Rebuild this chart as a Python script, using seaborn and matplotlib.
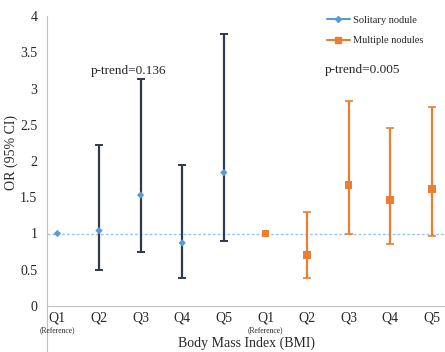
import numpy as np
import pandas as pd
import matplotlib
matplotlib.use("Agg")
import matplotlib.pyplot as plt
from matplotlib.lines import Line2D
import seaborn as sns

sns.set_style("white")
plt.rcParams["font.family"] = ["Liberation Serif", "DejaVu Serif"]

# Odds ratios and 95% CIs by BMI quintile
quintiles = ["Q1", "Q2", "Q3", "Q4", "Q5"]
solitary_or = [1.00, 1.04, 1.53, 0.87, 1.84]
solitary_lo = [1.00, 0.49, 0.74, 0.38, 0.90]
solitary_hi = [1.00, 2.22, 3.13, 1.95, 3.75]
multiple_or = [1.00, 0.70, 1.67, 1.46, 1.61]
multiple_lo = [1.00, 0.39, 1.00, 0.86, 0.96]
multiple_hi = [1.00, 1.29, 2.83, 2.46, 2.75]
p_trend = ["p-trend=0.136", "p-trend=0.005"]
yticks = [0, 0.5, 1, 1.5, 2, 2.5, 3, 3.5, 4]

blue = "#5b9bd5"
navy = "#2e3b4e"
orange = "#ed7d31"

pos_s = np.arange(0, 10, 2)
pos_m = np.arange(10, 20, 2)
df = pd.DataFrame({
    "pos": np.concatenate([pos_s, pos_m]),
    "OR": solitary_or + multiple_or,
    "group": ["Solitary nodule"] * 5 + ["Multiple nodules"] * 5,
})

fig = plt.figure(figsize=(4.45, 3.52), dpi=100)
ax = fig.add_axes([47 / 445, 46 / 352, 398 / 445, 290 / 352])

# reference line at OR = 1
ax.axhline(1, color="#9dc3e6", lw=1.0, ls=(0, (2, 1.5)), zorder=1)

# confidence intervals (reference quintile has none)
s_or = np.array(solitary_or)
ax.errorbar(pos_s[1:], s_or[1:],
            yerr=[s_or[1:] - np.array(solitary_lo[1:]), np.array(solitary_hi[1:]) - s_or[1:]],
            fmt="none", ecolor=navy, elinewidth=1.6, capsize=3, capthick=1.4, zorder=2)
m_or = np.array(multiple_or)
ax.errorbar(pos_m[1:], m_or[1:],
            yerr=[m_or[1:] - np.array(multiple_lo[1:]), np.array(multiple_hi[1:]) - m_or[1:]],
            fmt="none", ecolor=orange, elinewidth=1.6, capsize=3, capthick=1.2, zorder=2)

sns.scatterplot(data=df, x="pos", y="OR", hue="group", style="group",
                palette={"Solitary nodule": blue, "Multiple nodules": orange},
                markers={"Solitary nodule": "D", "Multiple nodules": "s"},
                size="group", sizes={"Solitary nodule": 14, "Multiple nodules": 30},
                edgecolor="none", legend=False, ax=ax, zorder=3)

ax.set_ylim(0, 4)
ax.set_xlim(-0.5, 18.63)
ax.set_yticks(yticks)
ax.set_yticklabels([f"{v:g}" for v in yticks], fontsize=10)
ax.tick_params(axis="y", length=3, color="#bfbfbf", width=0.8, pad=4)

# category boundaries as long light ticks, quintile labels centred between them
ax.set_xticks(np.arange(-0.5, 19.5, 1))
ax.set_xticklabels([])
ax.tick_params(axis="x", which="major", length=15, color="#d9d9d9", width=0.8)
ax.set_xticks(np.concatenate([pos_s, pos_m]), minor=True)
ax.set_xticklabels(quintiles + quintiles, minor=True, fontsize=10)
ax.tick_params(axis="x", which="minor", length=0, pad=4)
for p in (0, 10):
    ax.text(p, -0.285, "(Reference)", fontsize=5.5, ha="center", va="top")

for side in ("top", "right"):
    ax.spines[side].set_visible(False)
for side in ("left", "bottom"):
    ax.spines[side].set_color("#bfbfbf")
    ax.spines[side].set_linewidth(0.8)
ax.plot([-0.5, -0.5], [0, -0.65], color="#bfbfbf", lw=0.8, clip_on=False)

ax.set_xlabel("Body Mass Index (BMI)", fontsize=10, labelpad=0)
ax.xaxis.set_label_coords(0.5, -0.106)
ax.set_ylabel("OR (95% CI)", fontsize=10)
ax.yaxis.set_label_coords(-0.073, 0.53)

ax.text(3.44, 3.24, p_trend[0], fontsize=9.5, ha="center", va="center")
ax.text(14.64, 3.26, p_trend[1], fontsize=9.5, ha="center", va="center")

handles = [
    Line2D([], [], color=blue, marker="D", markersize=3, lw=1.5, label="Solitary nodule"),
    Line2D([], [], color=orange, marker="s", markersize=4, lw=1.5, label="Multiple nodules"),
]
ax.legend(handles=handles, loc="upper left", bbox_to_anchor=(0.68, 1.035), frameon=False,
          fontsize=7.5, handlelength=2.2, handletextpad=0.3, labelspacing=1.1)

fig.savefig("out.png", dpi=100)
